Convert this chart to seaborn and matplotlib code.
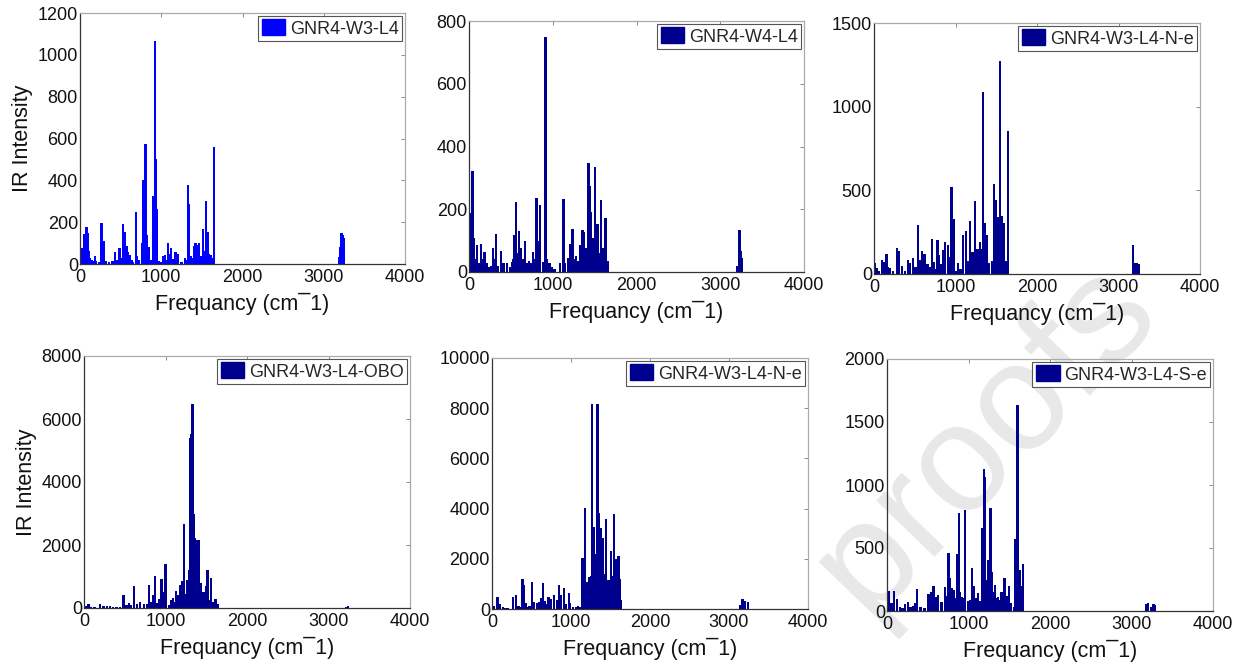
import numpy as np
import pandas as pd
import matplotlib
matplotlib.use("Agg")
import matplotlib.pyplot as plt
from matplotlib.patches import Patch
import seaborn as sns

# ---------------- data ----------------
x_ticks = [0, 1000, 2000, 3000, 4000]

labels = ["GNR4-W3-L4", "GNR4-W4-L4", "GNR4-W3-L4-N-e",
          "GNR4-W3-L4-OBO", "GNR4-W3-L4-N-e", "GNR4-W3-L4-S-e"]

freq1 = [10, 20, 30, 45, 55, 65, 80, 90, 100, 110,
         120, 140, 160, 185, 200, 230, 265, 280, 295, 320,
         360, 400, 430, 450, 485, 500, 525, 540, 555, 575,
         595, 615, 635, 655, 690, 705, 730, 760, 780, 805,
         820, 845, 870, 905, 920, 935, 945, 970, 1000, 1025,
         1045, 1065, 1085, 1100, 1120, 1145, 1175, 1195, 1210, 1250,
         1290, 1305, 1325, 1340, 1360, 1375, 1400, 1420, 1445, 1465,
         1490, 1510, 1525, 1540, 1555, 1570, 1590, 1615, 1630, 1645,
         3190, 3205, 3220, 3230, 3250]
int1 = [25, 60, 75, 30, 145, 60, 175, 120, 150, 60,
        30, 20, 15, 40, 15, 10, 195, 40, 110, 15,
        10, 15, 55, 20, 75, 30, 190, 130, 155, 85,
        55, 45, 20, 10, 250, 40, 20, 100, 400, 575,
        140, 80, 20, 325, 1065, 500, 265, 15, 10, 40,
        45, 20, 100, 50, 75, 25, 55, 30, 50, 10,
        30, 20, 380, 285, 40, 30, 85, 100, 90, 100,
        40, 165, 60, 40, 300, 155, 50, 45, 30, 560,
        35, 80, 150, 140, 125]

freq2 = [0, 15, 40, 55, 70, 95, 120, 145, 165, 185,
         210, 240, 260, 285, 300, 320, 350, 380, 410, 455,
         490, 515, 530, 545, 560, 575, 595, 620, 640, 665,
         690, 715, 740, 765, 790, 805, 820, 835, 850, 880,
         905, 915, 935, 960, 990, 1020, 1090, 1120, 1130, 1150,
         1180, 1205, 1220, 1235, 1260, 1280, 1300, 1330, 1355, 1375,
         1390, 1405, 1425, 1440, 1455, 1480, 1490, 1505, 1525, 1540,
         1560, 1575, 1600, 1615, 1630, 1655, 3200, 3220, 3230, 3245,
         3260]
int2 = [43, 189, 322, 107, 40, 86, 30, 90, 40, 65,
        28, 15, 20, 78, 40, 120, 20, 67, 28, 28,
        15, 33, 40, 118, 222, 60, 130, 75, 40, 100,
        30, 35, 30, 65, 40, 237, 60, 100, 213, 33,
        348, 749, 40, 30, 17, 10, 28, 104, 234, 30,
        45, 90, 40, 137, 40, 52, 35, 86, 134, 128,
        60, 75, 346, 275, 192, 107, 40, 334, 152, 152,
        60, 231, 75, 40, 173, 35, 18, 98, 135, 66,
        44]

freq3 = [10, 35, 60, 95, 125, 155, 175, 195, 230, 280,
         300, 340, 380, 415, 445, 480, 510, 540, 565, 585,
         620, 655, 680, 710, 735, 760, 780, 800, 825, 850,
         870, 905, 925, 950, 975, 1000, 1035, 1060, 1090, 1125,
         1150, 1180, 1210, 1240, 1270, 1300, 1320, 1335, 1360, 1385,
         1415, 1450, 1470, 1500, 1525, 1550, 1570, 1590, 1615, 1645,
         3175, 3205, 3230, 3245]
int3 = [64, 34, 20, 84, 74, 117, 40, 34, 15, 157,
        137, 50, 20, 84, 64, 93, 40, 292, 84, 137,
        117, 58, 40, 209, 74, 30, 201, 113, 60, 143,
        189, 173, 100, 521, 328, 20, 64, 30, 233, 257,
        80, 316, 133, 438, 149, 193, 150, 1088, 302, 233,
        64, 78, 535, 442, 342, 1271, 348, 302, 80, 855,
        173, 68, 68, 60]

freq4 = [20, 55, 90, 130, 200, 240, 280, 320, 360, 400,
         440, 485, 520, 550, 580, 610, 650, 690, 735, 770,
         795, 820, 850, 870, 900, 925, 950, 975, 1000, 1040,
         1070, 1090, 1110, 1130, 1155, 1175, 1190, 1205, 1225, 1245,
         1260, 1275, 1290, 1300, 1315, 1330, 1345, 1355, 1365, 1380,
         1390, 1405, 1415, 1430, 1450, 1465, 1480, 1500, 1515, 1540,
         1560, 1575, 1590, 1615, 1640, 3220, 3240]
int4 = [60, 140, 40, 40, 140, 50, 50, 60, 40, 30,
        30, 400, 80, 160, 100, 690, 140, 190, 140, 120,
        720, 200, 400, 1030, 150, 300, 920, 500, 1410, 100,
        250, 320, 200, 530, 400, 720, 650, 850, 2680, 455,
        900, 300, 1200, 5410, 5535, 6490, 2995, 2000, 2230, 1800,
        2150, 1900, 2150, 800, 300, 500, 330, 700, 1195, 240,
        950, 200, 140, 300, 140, 40, 60]

freq5 = [20, 70, 100, 135, 170, 205, 270, 305, 335, 360,
         385, 400, 425, 450, 475, 505, 530, 565, 600, 625,
         645, 665, 690, 715, 750, 780, 820, 845, 875, 910,
         940, 970, 990, 1030, 1060, 1085, 1115, 1145, 1175, 1200,
         1225, 1250, 1270, 1295, 1320, 1335, 1350, 1365, 1380, 1395,
         1410, 1425, 1440, 1455, 1475, 1490, 1505, 1520, 1540, 1555,
         1570, 1585, 1600, 1615, 1630, 3135, 3170, 3205, 3240]
int5 = [100, 465, 200, 90, 40, 30, 490, 560, 120, 80,
        1180, 955, 225, 80, 120, 1060, 265, 250, 290, 425,
        1050, 330, 200, 465, 385, 560, 360, 955, 560, 820,
        200, 625, 250, 90, 60, 120, 90, 2015, 4030, 1090,
        1290, 1315, 8155, 3275, 2175, 8155, 3835, 1500, 3210, 1200,
        2810, 1400, 3570, 1020, 1155, 900, 2305, 1300, 3780, 1100,
        1975, 1500, 2110, 1200, 360, 160, 400, 330, 290]

freq6 = [10, 25, 55, 90, 120, 160, 190, 220, 255, 290,
         320, 345, 370, 410, 460, 510, 540, 570, 600, 630,
         670, 710, 730, 755, 775, 795, 815, 835, 860, 880,
         900, 915, 940, 960, 990, 1020, 1045, 1070, 1095, 1120,
         1145, 1170, 1190, 1205, 1225, 1245, 1270, 1290, 1310, 1325,
         1340, 1360, 1385, 1405, 1420, 1440, 1470, 1495, 1520, 1560,
         1570, 1600, 1610, 1630, 1650, 1665, 3180, 3200, 3235, 3270,
         3285]
int6 = [40, 160, 60, 155, 95, 35, 20, 55, 70, 30,
        40, 65, 175, 30, 20, 135, 150, 200, 110, 125,
        75, 190, 120, 460, 260, 180, 165, 100, 450, 780,
        150, 115, 100, 800, 80, 90, 345, 200, 100, 145,
        80, 660, 1125, 1060, 250, 405, 820, 310, 150, 205,
        100, 115, 90, 150, 80, 260, 120, 200, 60, 30,
        575, 1635, 420, 325, 200, 370, 55, 60, 35, 55,
        50]

y_ticks = [[0, 200, 400, 600, 800, 1000, 1200],
           [0, 200, 400, 600, 800],
           [0, 500, 1000, 1500],
           [0, 2000, 4000, 6000, 8000],
           [0, 2000, 4000, 6000, 8000, 10000],
           [0, 500, 1000, 1500, 2000]]

freqs = [freq1, freq2, freq3, freq4, freq5, freq6]
ints = [int1, int2, int3, int4, int5, int6]

# ---------------- styling ----------------
sns.set_style("white")
plt.rcParams['font.family'] = ['Liberation Sans', 'DejaVu Sans']

W, H = 1244, 670
fig = plt.figure(figsize=(W / 100, H / 100), dpi=100)

# axes boxes in pixel coords: left, right, top, bottom
boxes = [(80, 405, 13, 264), (469, 804, 21, 272), (874, 1200, 23, 274),
         (84, 410, 356, 608), (492, 808, 358, 609), (887, 1213, 359, 611)]
colors = ['#0000FF', '#00008F', '#00008F', '#00008F', '#00008F', '#00008F']

# watermark
fig.text(985 / W, 1 - 438 / H, "proofs", rotation=46, fontsize=110,
         color='#e8e8e8', ha='center', va='center', zorder=-1)

for i, (l, r, t, b) in enumerate(boxes):
    ax = fig.add_axes([l / W, 1 - b / H, (r - l) / W, (b - t) / H])
    ax.set_facecolor('none')
    df = pd.DataFrame({"freq": freqs[i], "intensity": ints[i]})
    native = np.min(np.diff(np.unique(df["freq"])))
    sns.barplot(data=df, x="freq", y="intensity", native_scale=True,
                orient="x", color=colors[i], saturation=1, errorbar=None,
                width=28.0 / native, linewidth=0, ax=ax)
    ax.set_xlim(0, 4000)
    ax.set_ylim(y_ticks[i][0], y_ticks[i][-1])
    ax.set_xticks(x_ticks)
    ax.set_yticks(y_ticks[i])
    ax.set_xticklabels([str(v) for v in x_ticks])
    ax.set_yticklabels([str(v) for v in y_ticks[i]])
    ax.tick_params(axis='both', direction='in', length=3, width=0.6,
                   color='#777777', labelsize=13, top=True, right=True,
                   labelcolor='#111111')
    ax.tick_params(axis='x', pad=3.5)
    ax.tick_params(axis='y', pad=1.5)
    for side in ['left', 'bottom']:
        ax.spines[side].set_color('#333333')
        ax.spines[side].set_linewidth(0.9)
    for side in ['top', 'right']:
        ax.spines[side].set_color('#aaaaaa')
        ax.spines[side].set_linewidth(0.9)
    ax.set_xlabel("Frequancy (cm\u00af1)", fontsize=15.5, labelpad=5, color='#111111')
    if i in (0, 3):
        ax.set_ylabel("IR Intensity", fontsize=15.5, labelpad=3, color='#111111')
    else:
        ax.set_ylabel("")
    leg = ax.legend(handles=[Patch(facecolor=colors[i], edgecolor=colors[i])],
                    labels=[labels[i]], loc='upper right', fontsize=13,
                    frameon=True, fancybox=False, framealpha=1,
                    edgecolor='#555555', borderaxespad=0.15, borderpad=0.2,
                    handlelength=1.3, handleheight=1.0, handletextpad=0.25)
    leg.get_frame().set_linewidth(0.8)

fig.savefig("out.png", dpi=100)
